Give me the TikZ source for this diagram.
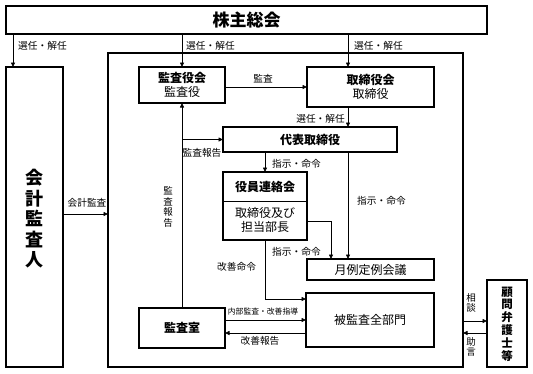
\documentclass[tikz,border=0pt]{standalone}
\usepackage{fontspec}
\setmainfont{Noto Sans CJK JP}
\usetikzlibrary{arrows.meta,calc}
\begin{document}
\begin{tikzpicture}[x=1pt,y=-1pt,
  bbox/.style={draw, line width=2pt, inner sep=0pt, outer sep=0pt, anchor=north west, align=center},
  lab/.style={font=\fontsize{9.7}{10}\selectfont, inner sep=0pt},
  slab/.style={font=\fontsize{7.8}{9}\selectfont, inner sep=0pt},
  vlab/.style={font=\fontsize{9.5}{10.5}\selectfont, inner sep=0pt, align=center},
  arr/.style={line width=0.8pt, -{Triangle[length=4.5pt,width=4pt]}},
  ln/.style={line width=0.8pt},
  main/.style={font=\fontsize{12}{13.5}\selectfont}]
\useasboundingbox (0,0) rectangle (533,373);
% frame
\node[draw, line width=1.1pt, inner sep=0pt, outer sep=0pt, anchor=north west,
      minimum width=355pt, minimum height=314pt] (frame) at (108,53) {};
% boxes
\node[bbox, minimum width=481pt, minimum height=28pt, font=\fontsize{17}{18}\selectfont\bfseries] (kabu) at (6,6) {株主総会};
\node[bbox, minimum width=57pt, minimum height=300pt] (kaikei) at (6,67) {};
\node[font=\fontsize{18}{20.5}\selectfont\bfseries, align=center, inner sep=0pt] (kaikeit) at (34.5,219) {会\\計\\監\\査\\人};
\node[bbox, main, minimum width=86pt, minimum height=36pt] (kansa) at (139,67) {{\bfseries 監査役会}\\監査役};
\node[bbox, main, minimum width=127pt, minimum height=40pt] (tori) at (307,67) {{\bfseries 取締役会}\\取締役};
\node[bbox, main, minimum width=174pt, minimum height=25pt] (daihyo) at (223,127) {\bfseries 代表取締役};
\node[bbox, minimum width=84pt, minimum height=68pt] (yakuin) at (223,172) {};
\draw[line width=1pt] (yakuin.west |- 0,201) -- (yakuin.east |- 0,201);
\node[main, inner sep=0pt] (yakuint) at (265,187) {\bfseries 役員連絡会};
\node[main, inner sep=0pt, align=center] (yakuinb) at (265,220) {取締役及び\\担当部長};
\node[bbox, main, minimum width=127pt, minimum height=21pt] (getsurei) at (307,259) {月例定例会議};
\node[bbox, main, minimum width=128pt, minimum height=54pt] (hikansa) at (306,293) {被監査全部門};
\node[bbox, main, minimum width=86pt, minimum height=40pt] (shitsu) at (139,308) {\bfseries 監査室};
\node[bbox, minimum width=40pt, minimum height=87pt] (komon) at (487,280) {};
\node[font=\fontsize{11.5}{12.8}\selectfont\bfseries, align=center, inner sep=0pt] (komont) at (507,324) {顧\\問\\弁\\護\\士\\等};
% helper coordinates
\coordinate (x13) at (13,0);
\coordinate (x348) at (348,0);
\coordinate (x331) at (331,0);
\coordinate (y87) at (0,87);
\coordinate (y214) at (0,214);
\coordinate (y221) at (0,221);
\coordinate (y299) at (0,299);
\coordinate (y321) at (0,321);
\coordinate (y333) at (0,333);
% connectors
\draw[arr] (kabu.south -| x13) -- (kaikei.north -| x13);
\draw[arr] (kabu.south -| kansa.north) -- (kansa.north);
\draw[arr] (kabu.south -| x348) -- (tori.north -| x348);
\draw[arr] (kansa.east |- y87) -- (tori.west |- y87);
\draw[arr] (tori.south -| x348) -- (daihyo.north -| x348);
\draw[arr] (shitsu.north) -- (kansa.south);
\draw[arr] (shitsu.north |- daihyo.west) -- (daihyo.west);
\draw[arr] (daihyo.south -| yakuin.north) -- (yakuin.north);
\draw[arr] (daihyo.south -| x348) -- (getsurei.north -| x348);
\draw[arr] (yakuin.east |- y221) -| (getsurei.north -| x331);
\draw[arr] (yakuin.south) |- (hikansa.west |- y299);
\draw[arr] (shitsu.east |- hikansa.west) -- (hikansa.west);
\draw[arr] (hikansa.west |- y333) -- (shitsu.east |- y333);
\draw[arr] (kaikei.east |- y214) -- (frame.west |- y214);
\draw[arr] (frame.east |- y321) -- (komon.west |- y321);
\draw[arr] (komon.west |- y333) -- (frame.east |- y333);
% labels
\node[lab, anchor=west] (l1) at (18,46) {選任・解任};
\node[lab, anchor=west] (l2) at (186,46) {選任・解任};
\node[lab, anchor=west] (l3) at (354,46) {選任・解任};
\node[lab] (l4) at (263,79) {監査};
\node[lab, anchor=east] (l5) at (345,119) {選任・解任};
\node[lab] (l6) at (202,153) {監査報告};
\node[lab, anchor=west] (l7) at (272,164) {指示・命令};
\node[lab, anchor=west] (l8) at (357,201) {指示・命令};
\node[lab, anchor=west] (l9) at (272,252) {指示・命令};
\node[lab, anchor=west] (l10) at (217,267) {改善命令};
\node[slab] (l11) at (263,312) {内部監査・改善指導};
\node[lab] (l12) at (260,341) {改善報告};
\node[lab] (l13) at (87,203) {会計監査};
\node[vlab] (l14) at (168,207) {監\\査\\報\\告};
\node[vlab] (l15) at (471,303) {相\\談};
\node[vlab] (l16) at (471,347) {助\\言};
\end{tikzpicture}
\end{document}
